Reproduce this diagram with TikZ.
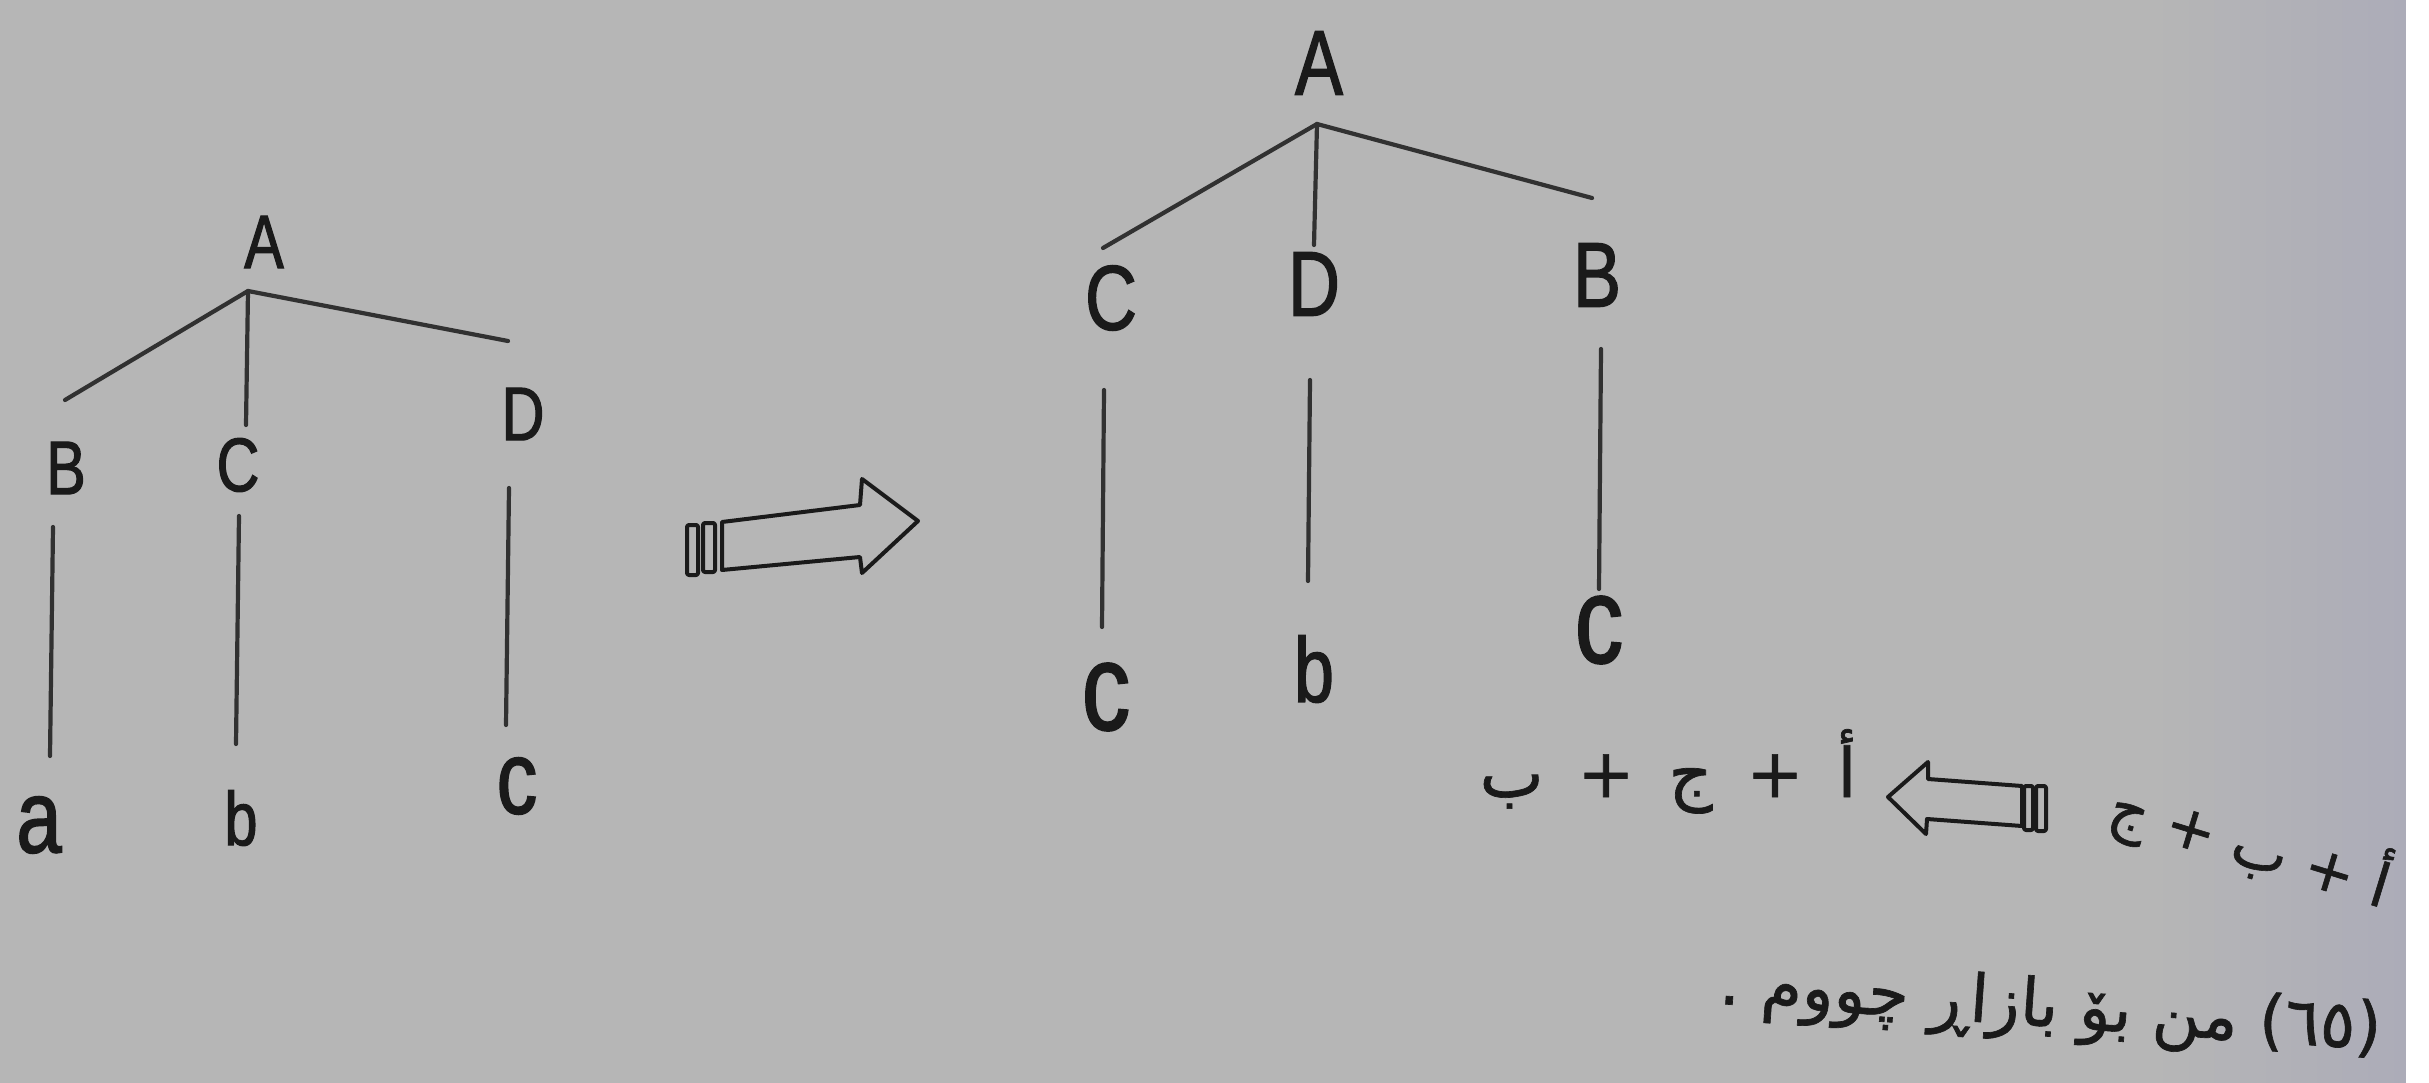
\documentclass[tikz,border=0pt]{standalone}
\usepackage{fontspec}
\setmainfont{Liberation Sans}
\newfontfamily\latfont[FakeStretch=0.78,FakeBold=1.5]{Liberation Sans}
\newfontfamily\arabicfont[Script=Arabic,FakeBold=1]{DejaVu Sans}
\TeXXeTstate=1
\definecolor{paper}{RGB}{182,182,182}
\definecolor{paperedge}{RGB}{172,172,184}
\definecolor{ink}{RGB}{26,26,26}
\tikzset{
  lt/.style={font=\latfont\fontsize{76}{80}\selectfont, text=ink, inner sep=0pt},
  ltbig/.style={font=\latfont\fontsize{104}{108}\selectfont, text=ink, inner sep=0pt},
  rt/.style={font=\latfont\fontsize{92}{96}\selectfont, text=ink, inner sep=0pt},
  rtbig/.style={font=\latfont\fontsize{124}{128}\selectfont, text=ink, inner sep=0pt},
  edge/.style={draw=ink!90, line width=4.2pt, line cap=round},
  arL/.style={font=\arabicfont\fontsize{68}{72}\selectfont, text=ink, inner sep=0pt},
  arR/.style={font=\arabicfont\fontsize{60}{64}\selectfont, text=ink, inner sep=0pt},
  arS/.style={font=\arabicfont\fontsize{66}{70}\selectfont, text=ink, inner sep=0pt},
  hollow/.style={draw=ink, line width=4pt, fill=paper, line join=round}
}
\begin{document}
\begin{tikzpicture}[x=1pt,y=-1pt]
% background
\fill[paper] (0,0) rectangle (2429,1083);
\shade[left color=paper, right color=paperedge] (2150,0) rectangle (2406,1083);
\fill[white] (2406,0) rectangle (2429,1083);
\useasboundingbox (0,0) rectangle (2429,1083);

% ---------- left tree ----------
\node[lt] (lA) at (264,242) {A};
\node[lt] (lB) at (66,468) {B};
\node[lt] (lC) at (238,465) {C};
\node[lt] (lD) at (523,414) {D};
\node[ltbig] (la) at (39,825) {a};
\node[lt] (lb) at (241,818) {b};
\node[ltbig] (lc) at (517,786) {c};
\coordinate (lJ) at (248,291);
\coordinate (lJB) at (65,400);
\coordinate (lJC) at (246,425);
\coordinate (lJD) at (508,341);
\draw[edge] (lJB) -- (lJ) -- (lJD);
\draw[edge] (lJ) -- (lJC);
\coordinate (lBt) at (53,527);  \coordinate (lab) at (50,756);
\coordinate (lCt) at (239,516); \coordinate (lbb) at (236,744);
\coordinate (lDt) at (509,488); \coordinate (lcb) at (506,725);
\draw[edge] (lBt) -- (lab);
\draw[edge] (lCt) -- (lbb);
\draw[edge] (lDt) -- (lcb);

% ---------- middle arrow ----------
\draw[hollow] (722,522) -- (860,505) -- (862,479) -- (918,521) -- (862,573) -- (860,557) -- (722,570) -- cycle;
\draw[hollow, rounded corners=2pt] (687,525) rectangle (698,575);
\draw[hollow, rounded corners=2pt] (703,523) rectangle (715,572);

% ---------- right tree ----------
\node[rt] (rA) at (1319,63) {A};
\node[rt] (rC) at (1111,298) {C};
\node[rt] (rD) at (1314,284) {D};
\node[rt] (rB) at (1597,275) {B};
\node[rtbig] (rc1) at (1106,697) {c};
\node[rt] (rb) at (1314,669) {b};
\node[rtbig] (rc2) at (1599,630) {c};
\coordinate (rJ) at (1317,124);
\coordinate (rJC) at (1103,248);
\coordinate (rJD) at (1314,245);
\coordinate (rJB) at (1592,198);
\draw[edge] (rJC) -- (rJ) -- (rJB);
\draw[edge] (rJ) -- (rJD);
\coordinate (rCt) at (1104,390); \coordinate (rc1b) at (1102,627);
\coordinate (rDt) at (1310,380); \coordinate (rbb) at (1308,581);
\coordinate (rBt) at (1601,349); \coordinate (rc2b) at (1599,589);
\draw[edge] (rCt) -- (rc1b);
\draw[edge] (rDt) -- (rbb);
\draw[edge] (rBt) -- (rc2b);

% ---------- arabic line 1 ----------
\node[arL, anchor=base] (eq2) at (1668,797) {\beginR أ\hspace{34pt}+\hspace{34pt}ج\hspace{34pt}+\hspace{34pt}ب\endR};
\draw[hollow] (1888,797) -- (1928,762) -- (1928,779) -- (2022,786) -- (2022,826) -- (1927,819) -- (1926,834) -- cycle;
\draw[hollow, rounded corners=2pt] (2024,786) rectangle (2033,830);
\draw[hollow, rounded corners=2pt] (2036,786) rectangle (2046,831);
\node[arR, anchor=base, rotate=-17] (eq1) at (2244,866) {\beginR أ + ب + ج\endR};

% ---------- arabic line 2 ----------
\node[arS, anchor=base east, rotate=-4] (sent) at (2380,1050) {\beginR\beginL(٦٥)\endL{} من بۆ بازاڕ چووم .\endR};
\end{tikzpicture}
\end{document}
